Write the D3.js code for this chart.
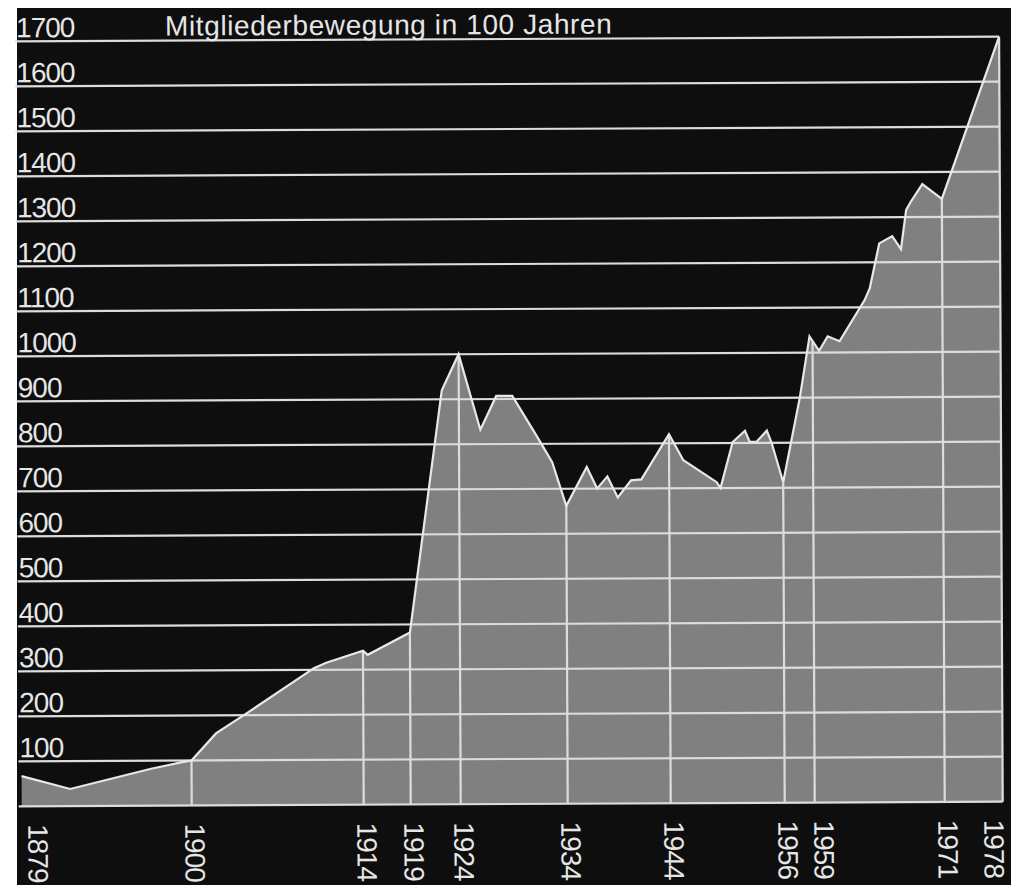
<!DOCTYPE html>
<html>
<head>
<meta charset="utf-8">
<script src="https://cdn.jsdelivr.net/npm/d3@7"></script>
<style>
  html, body { margin: 0; padding: 0; background: #fff; }
  svg { display: block; }
</style>
</head>
<body>
<svg id="chart"></svg>
<script>
// Mitgliederbewegung in 100 Jahren — membership curve.

const title = 'Mitgliederbewegung in 100 Jahren';

// tick years along the bottom; the drawing's time axis is not uniform,
// so these also act as the breakpoints of the x scale
const tickYears = [1879, 1900, 1914, 1919, 1924, 1934, 1944, 1956, 1959, 1971, 1978];

const yTicks = [100, 200, 300, 400, 500, 600, 700, 800, 900, 1000,
                1100, 1200, 1300, 1400, 1500, 1600, 1700];

// curve vertices
const years = [
  1879, 1885, 1895, 1899, 1900, 1902, 1904.5, 1910, 1911, 1914, 1914.5, 1919,
  1922.3, 1924, 1926, 1927.5, 1929, 1931.3, 1932.7, 1934, 1936, 1937, 1938, 1939,
  1940.3, 1941.3, 1944, 1945.5, 1949, 1949.4, 1950.7, 1952, 1952.5, 1953.2, 1954.3,
  1954.8, 1956, 1957.7, 1958.7, 1959.6, 1960.4, 1961.5, 1963.8, 1964.3, 1965.2,
  1966.4, 1967.2, 1967.7, 1968.1, 1969.2, 1971, 1978
];
const members = [
  67, 38, 82, 97, 100, 160, 204, 304, 316, 342, 333, 382,
  920, 1000, 832, 907, 907, 816, 759, 662, 748, 700, 727, 680,
  718, 720, 820, 762, 713, 700, 802, 827, 802, 802, 827,
  800, 712, 900, 1036, 1004, 1036, 1025, 1115, 1142, 1242,
  1258, 1229, 1316, 1333, 1373, 1340, 1700
];

(function () {
  const W = 1011, H = 885;
  const left = 20, right = 1001;
  const font = '"Liberation Sans", Arial, Helvetica, sans-serif';
  const ink = '#e6e6e6';
  const line = '#dcdcdc';

  const svg = d3.select('#chart').attr('width', W).attr('height', H);

  // black print area, white paper margin above and to the left
  svg.append('rect')
    .attr('x', 17).attr('y', 8)
    .attr('width', W - 17).attr('height', H - 8)
    .attr('fill', '#0e0e0e');

  const x = d3.scaleLinear()
    .domain(tickYears)
    .range([left, 190, 362, 409, 459, 566, 669, 783, 813, 943, right]);
  const y = d3.scaleLinear().domain([0, 1700]).range([804, 39]);

  const data = years.map((yr, i) => ({ year: yr, value: members[i] }));
  const valueAt = (yr) => {
    const i = years.findIndex(v => v >= yr);
    if (years[i] === yr || i <= 0) return members[Math.max(i, 0)];
    const t = (yr - years[i - 1]) / (years[i] - years[i - 1]);
    return members[i - 1] + t * (members[i] - members[i - 1]);
  };

  // the scan is a touch rotated
  const g = svg.append('g').attr('transform', 'rotate(-0.27, 510, 440)');

  // grey area
  g.append('path')
    .datum(data)
    .attr('fill', '#808080')
    .attr('d', d3.area().x(d => x(d.year)).y0(y(0)).y1(d => y(d.value)));

  // vertical grid lines only inside the area
  g.append('g')
    .selectAll('line')
    .data(tickYears.slice(1))
    .join('line')
    .attr('x1', d => x(d)).attr('x2', d => x(d))
    .attr('y1', y(0)).attr('y2', d => y(valueAt(d)))
    .attr('stroke', line).attr('stroke-width', 2.2);

  // horizontal grid lines across the whole plot
  g.append('g')
    .selectAll('line')
    .data([0, ...yTicks])
    .join('line')
    .attr('x1', 17).attr('x2', right)
    .attr('y1', d => y(d)).attr('y2', d => y(d))
    .attr('stroke', line).attr('stroke-width', 2.2);

  // outline of the curve
  g.append('path')
    .datum(data)
    .attr('fill', 'none')
    .attr('stroke', '#e8e8e8')
    .attr('stroke-width', 2.2)
    .attr('stroke-linejoin', 'miter')
    .attr('d', d3.line().x(d => x(d.year)).y(d => y(d.value)));

  // y labels sit just above their grid line, flush left
  g.append('g')
    .selectAll('text')
    .data(yTicks)
    .join('text')
    .attr('x', 18)
    .attr('y', d => y(d) - 4)
    .attr('fill', ink)
    .attr('font-family', font)
    .attr('font-size', 28)
    .attr('letter-spacing', -1)
    .text(d => d);

  g.append('text')
    .attr('x', 167)
    .attr('y', y(1700) - 5)
    .attr('fill', ink)
    .attr('font-family', font)
    .attr('font-size', 28)
    .attr('letter-spacing', 0.6)
    .text(title);

  // x labels turned 90°, nudged apart where they would collide
  let prev = -Infinity;
  const labelPos = tickYears.map(yr => {
    let p = Math.max(x(yr) + 3, left + 16, prev + 36);
    p = Math.min(p, right - 9);
    prev = p;
    return p;
  });

  g.append('g')
    .selectAll('text')
    .data(tickYears)
    .join('text')
    .attr('transform', (d, i) => `translate(${labelPos[i]},${y(0) + 18}) rotate(90)`)
    .attr('dominant-baseline', 'central')
    .attr('fill', ink)
    .attr('font-family', font)
    .attr('font-size', 28)
    .attr('letter-spacing', -1)
    .text(d => d);
})();
</script>
</body>
</html>
